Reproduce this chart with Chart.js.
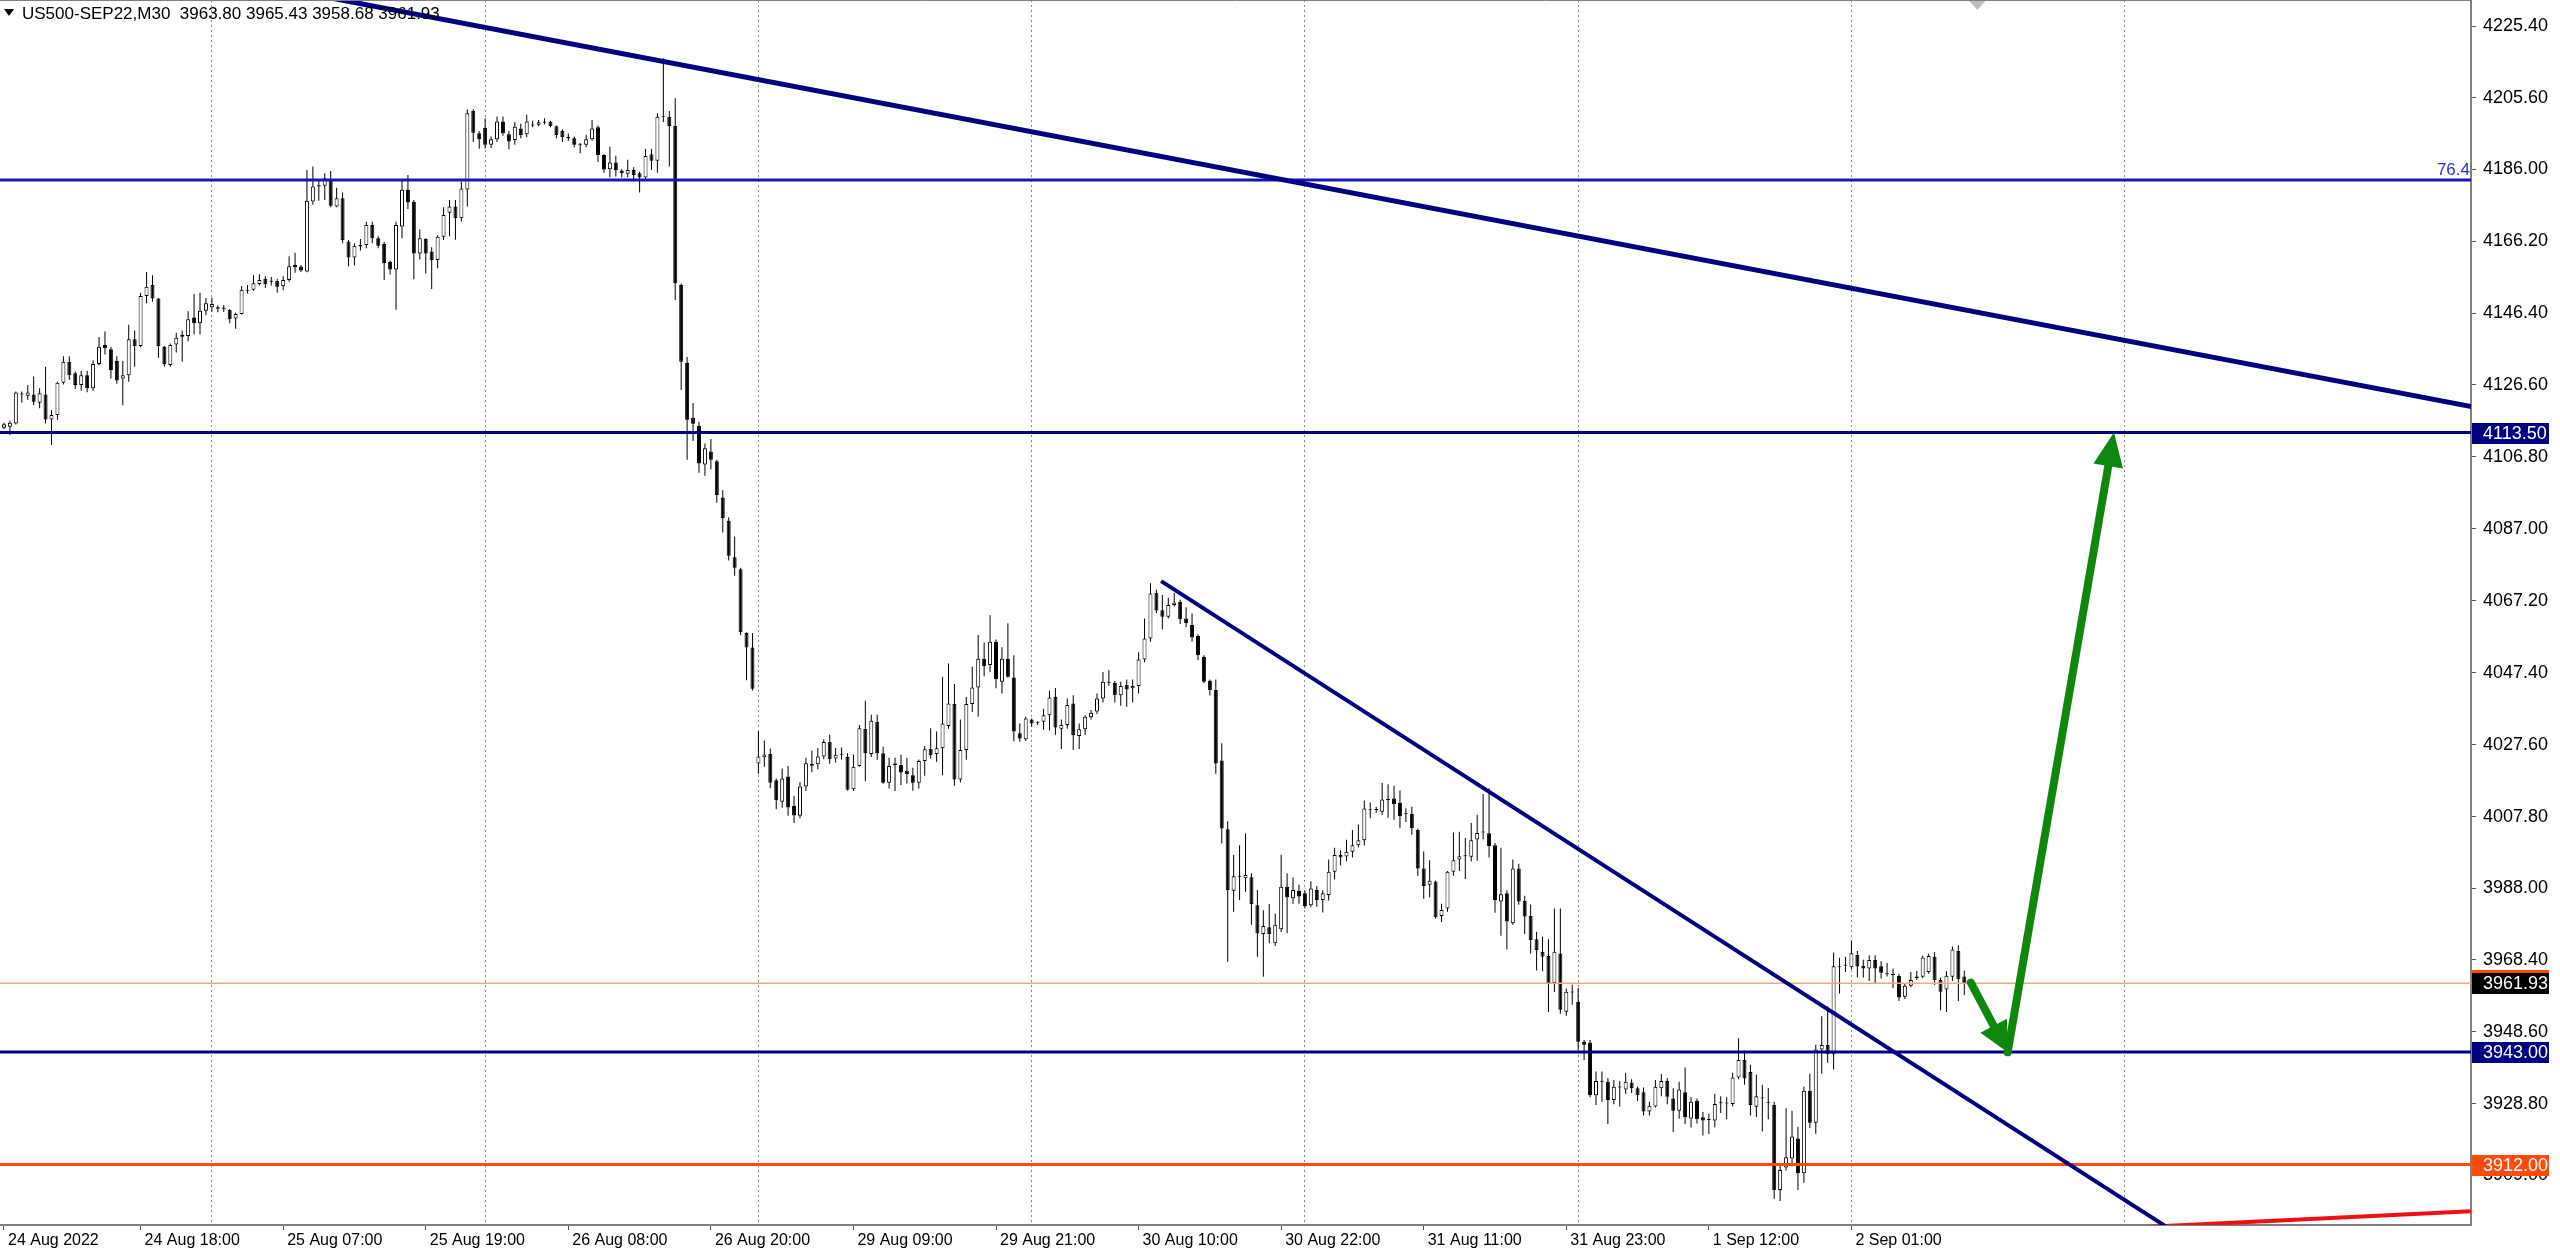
<!DOCTYPE html>
<html>
<head>
<meta charset="utf-8">
<title>US500-SEP22,M30</title>
<script src="https://cdn.jsdelivr.net/npm/chart.js@4.4.0/dist/chart.umd.min.js"></script>
<style>
html, body { margin: 0; padding: 0; background: #ffffff; }
canvas { display: block; }
</style>
</head>
<body>
<canvas id="canvas" width="2560" height="1253"></canvas>
<script>
// M30 bars, index 0 = first visible bar (24 Aug 2022)
var opens = [
  4114.8,4115.1,4116.0,4124.0,4123.6,4124.0,4121.7,4124.0,4117.1,4118.3,
  4127.2,4133.0,4129.8,4126.6,4129.3,4125.7,4132.4,4137.6,4136.4,4133.2,
  4128.4,4129.3,4139.2,4137.3,4151.1,4154.1,4150.4,4137.1,4132.1,4137.7,
  4139.9,4140.1,4145.2,4143.6,4147.0,4148.0,4148.0,4147.9,4147.2,4144.9,
  4146.1,4152.5,4152.8,4154.4,4155.8,4155.0,4155.2,4153.8,4155.5,4159.6,
  4159.2,4157.8,4177.1,4181.6,4181.4,4183.2,4175.7,4178.0,4166.1,4161.7,
  4165.2,4165.1,4170.6,4167.0,4165.4,4160.5,4158.4,4170.2,4180.3,4177.0,
  4162.8,4166.8,4163.3,4161.0,4167.4,4174.0,4175.7,4172.5,4180.4,4202.1,
  4195.9,4197.4,4192.7,4194.2,4199.1,4195.6,4194.0,4197.2,4195.6,4198.0,
  4198.2,4198.8,4199.1,4197.8,4196.6,4194.9,4194.5,4192.6,4192.7,4194.2,
  4197.5,4189.9,4186.0,4187.8,4185.6,4184.7,4185.8,4184.9,4183.7,4190.1,
  4188.3,4200.3,4200.4,4197.9,4154.1,4132.7,4117.6,4115.4,4104.7,4108.3,
  4105.6,4095.6,4089.2,4079.2,4075.9,4058.3,4054.3,4022.4,4024.1,4025.0,
  4017.8,4011.9,4018.8,4010.8,4008.0,4016.1,4022.3,4022.2,4024.3,4028.3,
  4023.8,4024.8,4024.2,4015.3,4021.7,4031.9,4025.0,4033.9,4025.2,4017.1,
  4022.0,4022.0,4020.4,4019.2,4017.1,4023.1,4026.4,4025.0,4026.6,4032.7,
  4038.8,4018.0,4026.1,4038.8,4043.3,4051.2,4049.5,4055.9,4044.9,4051.2,
  4046.1,4030.7,4029.1,4034.5,4033.6,4033.9,4035.7,4040.8,4032.0,4033.0,
  4038.9,4030.0,4031.8,4035.1,4036.7,4040.3,4044.7,4044.6,4041.2,4044.0,
  4043.1,4043.7,4051.0,4056.8,4069.4,4064.6,4062.8,4066.0,4066.9,4062.3,
  4060.5,4057.5,4051.8,4045.2,4042.6,4023.2,4004.3,3987.4,3991.2,3990.8,
  3991.1,3983.4,3975.5,3977.3,3972.9,3976.8,3988.5,3985.3,3987.4,3986.7,
  3983.4,3987.6,3984.8,3986.2,3992.6,3997.2,3996.8,3998.1,3999.9,4001.3,
  4009.5,4009.6,4009.1,4012.3,4012.8,4011.6,4008.5,4008.5,4004.1,3993.5,
  3989.0,3989.9,3980.4,3982.5,3992.6,3996.0,3996.9,3996.7,4001.5,4003.4,
  4003.2,3999.9,3984.4,3986.7,3978.4,3993.5,3984.6,3980.4,3974.0,3970.6,
  3969.4,3962.0,3970.1,3954.1,3959.4,3956.8,3945.8,3945.6,3931.1,3934.8,
  3934.8,3929.8,3933.2,3932.7,3934.6,3933.0,3931.9,3926.6,3928.0,3933.0,
  3935.0,3930.2,3926.8,3931.9,3924.7,3929.6,3925.0,3924.3,3924.1,3928.9,
  3928.9,3928.7,3936.0,3940.8,3937.5,3927.9,3930.2,3929.0,3928.4,3905.0,
  3911.2,3913.7,3919.2,3909.6,3932.3,3923.5,3943.7,3944.9,3942.4,3966.3,
  3966.7,3966.3,3969.7,3966.7,3966.0,3968.3,3966.6,3964.5,3964.4,3963.9,
  3958.2,3961.2,3963.3,3963.7,3965.0,3969.2,3962.8,3960.2,3963.7,3970.8,3963.80
];
var highs = [
  4116.2,4116.8,4124.8,4124.8,4126.6,4128.9,4125.7,4131.6,4119.7,4127.5,
  4134.5,4134.5,4130.3,4130.5,4130.5,4133.4,4139.8,4141.3,4137.1,4134.5,
  4133.2,4143.2,4141.6,4152.0,4157.7,4156.8,4150.5,4137.3,4138.0,4141.0,
  4141.6,4146.9,4151.6,4152.0,4150.5,4150.6,4148.5,4148.6,4147.5,4146.5,
  4153.8,4154.1,4156.8,4157.1,4156.5,4156.3,4155.8,4156.5,4162.0,4163.0,
  4159.6,4185.8,4186.7,4183.0,4184.9,4185.5,4180.9,4179.6,4166.5,4165.6,
  4166.8,4171.5,4171.5,4167.5,4166.0,4160.8,4171.5,4183.0,4184.4,4177.5,
  4169.4,4167.0,4164.5,4167.8,4175.5,4177.5,4177.5,4182.5,4202.5,4202.5,
  4196.5,4200.0,4195.0,4200.5,4200.5,4196.5,4199.0,4198.5,4201.0,4199.3,
  4199.5,4200.0,4199.3,4198.0,4197.0,4195.8,4195.0,4193.2,4195.5,4199.5,
  4198.0,4190.2,4192.2,4189.7,4186.0,4188.6,4186.5,4185.3,4191.6,4191.6,
  4201.4,4216.5,4202.0,4205.5,4154.5,4134.3,4121.6,4116.5,4110.5,4111.7,
  4106.0,4097.6,4090.2,4084.9,4076.3,4058.5,4058.3,4031.3,4028.7,4026.5,
  4018.3,4021.0,4021.7,4013.5,4017.3,4024.0,4026.0,4026.7,4029.0,4030.3,
  4026.7,4026.8,4025.2,4024.9,4033.0,4039.7,4035.8,4035.8,4027.0,4024.0,
  4024.0,4024.8,4024.0,4021.2,4023.5,4027.2,4032.1,4031.2,4046.3,4049.9,
  4044.3,4034.5,4040.7,4049.0,4057.8,4055.7,4063.2,4056.5,4054.4,4061.0,
  4052.2,4033.4,4035.3,4034.8,4034.0,4037.5,4042.4,4043.2,4034.5,4040.3,
  4041.2,4033.4,4035.7,4037.1,4041.7,4047.6,4048.1,4045.1,4044.9,4045.5,
  4045.5,4053.0,4062.3,4072.0,4070.2,4068.8,4068.0,4069.4,4067.5,4065.4,
  4063.7,4058.0,4052.2,4045.5,4045.5,4028.0,4006.5,3997.2,3999.9,4003.1,
  3992.2,3987.6,3982.0,3983.7,3981.1,3997.3,3992.2,3991.0,3989.0,3987.4,
  3990.0,3988.7,3987.5,3996.0,3999.2,3998.5,4001.4,4004.1,4005.6,4012.2,
  4011.7,4010.5,4017.0,4016.7,4016.3,4015.0,4010.1,4010.5,4004.5,3998.2,
  3995.8,3990.2,3983.8,3992.8,4003.4,4003.6,4001.9,4006.0,4008.3,4014.0,
  4015.6,4000.5,3999.2,3987.5,3996.0,3994.8,3986.0,3983.6,3976.1,3974.7,
  3974.0,3982.5,3982.5,3960.5,3961.5,3960.6,3946.3,3946.3,3937.6,3937.6,
  3935.8,3935.3,3935.0,3937.3,3935.5,3933.5,3933.2,3929.3,3935.3,3936.9,
  3935.8,3933.0,3934.8,3938.7,3930.5,3930.2,3926.5,3926.0,3931.5,3930.8,
  3930.5,3937.3,3946.8,3943.4,3939.5,3936.8,3934.0,3933.1,3929.3,3912.0,
  3927.5,3926.8,3922.4,3933.5,3937.0,3945.0,3952.8,3955.5,3970.4,3968.9,
  3969.2,3973.6,3970.8,3968.4,3969.6,3969.6,3968.0,3967.5,3966.0,3964.5,
  3962.0,3965.0,3965.3,3969.5,3970.0,3970.5,3963.5,3965.2,3972.0,3972.4,3965.43
];
var lows = [
  4114.4,4112.8,4115.7,4121.7,4122.5,4121.1,4120.2,4116.0,4110.1,4117.0,
  4126.7,4128.0,4125.5,4125.0,4124.6,4125.0,4132.0,4135.0,4128.4,4126.9,
  4121.0,4127.5,4131.6,4137.0,4149.1,4149.5,4134.1,4131.6,4131.6,4135.5,
  4133.0,4138.6,4140.5,4140.5,4145.8,4146.8,4146.6,4146.7,4143.6,4142.1,
  4146.0,4151.8,4152.5,4154.0,4153.3,4154.0,4152.0,4152.7,4155.0,4157.5,
  4157.7,4157.6,4176.2,4177.3,4177.5,4175.5,4175.5,4165.6,4159.3,4159.5,
  4163.6,4164.2,4165.6,4164.2,4155.5,4157.0,4147.3,4167.0,4175.0,4155.7,
  4161.1,4157.3,4153.0,4158.7,4166.5,4167.5,4166.6,4171.6,4175.7,4193.5,
  4191.6,4191.6,4191.8,4193.5,4195.2,4191.5,4192.7,4194.5,4194.8,4197.5,
  4197.8,4198.3,4197.5,4194.5,4193.5,4193.8,4192.0,4190.4,4192.0,4193.8,
  4188.0,4185.0,4183.8,4184.0,4183.7,4183.8,4182.7,4179.6,4183.3,4185.8,
  4185.0,4199.0,4186.7,4150.0,4125.2,4106.0,4111.2,4102.4,4101.6,4103.3,
  4094.2,4086.0,4078.3,4074.1,4057.7,4045.3,4042.5,4019.6,4021.5,4015.6,
  4009.8,4010.2,4008.0,4006.0,4007.3,4014.8,4020.0,4020.8,4023.6,4022.3,
  4022.7,4023.5,4015.0,4014.8,4021.5,4017.5,4024.2,4023.4,4016.8,4015.5,
  4014.8,4016.5,4016.8,4014.9,4015.5,4019.0,4023.7,4022.9,4019.2,4032.0,
  4016.3,4017.2,4023.4,4036.6,4035.3,4046.4,4047.6,4043.1,4041.7,4046.0,
  4028.5,4028.4,4028.6,4032.5,4033.0,4031.7,4031.5,4030.3,4026.4,4032.0,
  4026.1,4026.4,4030.3,4034.5,4036.0,4039.2,4043.8,4039.2,4038.3,4038.0,
  4039.2,4041.7,4050.3,4055.9,4063.8,4059.3,4062.3,4065.6,4060.8,4059.9,
  4056.0,4050.8,4044.5,4041.1,4019.6,4000.4,3967.8,3981.6,3984.8,3987.1,
  3978.0,3969.2,3963.7,3972.9,3972.2,3976.0,3975.7,3983.8,3983.8,3982.5,
  3982.8,3983.0,3981.4,3984.7,3990.5,3994.3,3995.5,3996.5,3999.3,3999.8,
  4007.3,4008.8,4008.2,4007.5,4006.9,4004.6,4006.3,4002.8,3991.5,3985.2,
  3985.6,3979.7,3978.8,3981.6,3991.5,3992.8,3990.6,3995.4,3995.6,4001.5,
  3996.5,3981.3,3975.0,3971.2,3978.0,3983.5,3975.5,3970.1,3965.4,3965.2,
  3954.0,3959.5,3953.5,3953.0,3956.0,3943.5,3940.8,3930.5,3928.4,3929.3,
  3923.2,3928.6,3928.0,3931.5,3931.7,3929.5,3925.5,3925.5,3927.7,3930.8,
  3928.6,3921.0,3924.6,3923.2,3922.2,3923.3,3920.0,3920.4,3922.3,3926.2,
  3924.5,3928.0,3935.5,3934.0,3925.5,3925.1,3921.1,3924.5,3902.6,3902.0,
  3910.4,3911.5,3905.0,3907.0,3922.1,3920.5,3937.0,3940.0,3938.2,3959.1,
  3965.0,3965.7,3963.5,3963.5,3962.5,3962.0,3963.2,3963.8,3960.6,3957.0,
  3957.6,3960.8,3962.8,3963.3,3964.5,3961.5,3954.5,3954.0,3962.5,3957.0,3958.68
];
var closes = [
  4115.8,4116.2,4124.5,4124.2,4124.5,4122.0,4124.3,4117.1,4118.3,4127.2,
  4133.0,4129.3,4126.6,4129.3,4125.7,4132.4,4137.1,4136.7,4130.7,4127.8,
  4129.3,4139.2,4137.3,4151.1,4153.6,4150.4,4137.3,4132.4,4137.6,4139.6,
  4140.4,4144.7,4143.6,4147.0,4149.1,4148.9,4147.6,4147.6,4144.7,4146.1,
  4152.8,4152.8,4154.6,4155.5,4154.4,4155.3,4153.6,4155.5,4159.3,4159.0,
  4158.1,4177.3,4181.2,4181.2,4183.5,4175.9,4178.0,4166.5,4161.7,4164.9,
  4164.7,4170.6,4167.0,4164.9,4160.2,4158.4,4170.6,4180.3,4176.8,4162.8,
  4167.0,4162.8,4161.0,4167.4,4173.4,4175.7,4172.5,4180.7,4201.4,4196.0,
  4194.2,4192.7,4194.2,4199.1,4195.9,4193.6,4197.7,4195.4,4199.1,4198.3,
  4198.9,4199.1,4197.8,4195.4,4194.8,4194.6,4192.7,4192.8,4194.2,4197.2,
  4189.9,4185.9,4187.8,4185.8,4184.9,4185.8,4184.4,4183.7,4189.6,4188.3,
  4200.4,4200.5,4197.9,4154.6,4133.0,4117.0,4115.9,4105.0,4109.2,4106.0,
  4096.3,4090.0,4079.6,4076.3,4058.5,4054.3,4043.0,4024.3,4024.9,4017.1,
  4012.3,4018.3,4010.3,4008.1,4016.1,4022.5,4021.8,4024.3,4028.3,4023.6,
  4024.8,4024.9,4015.2,4021.5,4032.1,4025.2,4034.2,4025.2,4017.1,4021.7,
  4022.4,4019.9,4019.5,4017.1,4023.1,4026.3,4024.7,4026.6,4033.4,4038.9,
  4018.0,4026.1,4038.8,4043.3,4051.2,4049.2,4055.9,4045.6,4051.2,4046.3,
  4031.2,4029.3,4034.8,4033.4,4033.7,4035.7,4040.6,4032.3,4033.0,4038.5,
  4030.2,4031.8,4035.3,4036.4,4040.3,4044.9,4044.6,4041.2,4043.7,4042.8,
  4043.7,4051.0,4056.8,4069.2,4064.5,4062.8,4066.0,4066.7,4062.1,4061.0,
  4057.1,4052.2,4044.9,4042.6,4022.4,4004.5,3987.6,3991.4,3991.4,3991.7,
  3983.7,3975.6,3977.7,3975.5,3978.0,3988.5,3985.6,3987.6,3985.8,3983.2,
  3988.0,3984.8,3986.7,3992.6,3997.2,3996.5,3998.1,3999.9,4001.3,4010.0,
  4009.6,4009.7,4012.5,4012.7,4011.2,4007.9,4008.4,4004.6,3993.5,3988.7,
  3990.1,3980.1,3982.1,3992.6,3995.8,3996.9,3997.0,4001.3,4003.3,4003.5,
  3999.7,3984.8,3986.4,3978.9,3993.5,3984.4,3980.3,3973.8,3971.1,3969.2,
  3962.0,3970.6,3954.6,3959.6,3959.5,3945.8,3945.0,3931.1,3935.0,3934.9,
  3929.8,3933.4,3933.4,3934.8,3933.0,3931.1,3926.6,3928.2,3933.4,3935.0,
  3930.7,3926.8,3932.7,3925.0,3929.3,3924.5,3924.1,3924.4,3928.7,3929.0,
  3928.8,3936.0,3940.8,3935.7,3928.4,3930.8,3930.3,3929.1,3905.0,3910.5,
  3914.0,3919.7,3909.6,3932.3,3923.5,3943.7,3944.9,3942.4,3966.6,3966.4,
  3966.9,3970.2,3966.5,3966.0,3968.3,3966.0,3964.8,3964.4,3964.2,3958.0,
  3961.2,3962.8,3963.8,3969.0,3969.4,3962.8,3959.6,3964.0,3971.2,3963.0,3961.93
];

// time axis: bar index of each label, and bar index of each day start (dotted grid)
var timeLabels = ['24 Aug 2022', '24 Aug 18:00', '25 Aug 07:00', '25 Aug 19:00', '26 Aug 08:00', '26 Aug 20:00',
  '29 Aug 09:00', '29 Aug 21:00', '30 Aug 10:00', '30 Aug 22:00', '31 Aug 11:00', '31 Aug 23:00', '1 Sep 12:00', '2 Sep 01:00'];
var timeTickIdx = [0, 23, 47, 71, 95, 119, 143, 167, 191, 215, 239, 263, 287, 311];
var dayStartIdx = [35, 81, 127, 173, 219, 265, 311, 357];

// price axis
var priceTicks = [3909.0, 3928.8, 3948.6, 3968.4, 3988.0, 4007.8, 4027.6, 4047.4, 4067.2, 4087.0,
  4106.8, 4126.6, 4146.4, 4166.2, 4186.0, 4205.6, 4225.4];

// drawn objects: [bar index, price] end points
var upperTrend = [[40, 4237.8], [420, 4119.2]];
var lowerTrend = [[194.8, 4072.6], [380, 3878.1]];
var redTrend = [[360, 3894.8], [420, 3899.5]];
var fibLevel = 4183.0;
var resistance = 4113.5;
var support = 3943.0;
var lowLevel = 3912.0;
var bidPrice = 3961.93;
var arrowDown = [[331.1, 3962.1], [337.3, 3942.9]];
var arrowUp = [[337.3, 3942.9], [355.2, 4113.5]];
var shiftMarkerIdx = 332.2;

var xMin = -0.67, xMax = 415.3;
var yMin = 3895.37, yMax = 4232.56;

var navy = '#000080';
var green = '#0f870f';

function pts(arr) {
  return arr.map(function(p) { return {x: p[0], y: p[1]}; });
}
function hline(price) {
  return [{x: xMin - 2, y: price}, {x: xMax + 2, y: price}];
}
function lineSet(data, color, width, order) {
  return {
    type: 'line', data: data, borderColor: color, borderWidth: width,
    pointRadius: 0, fill: false, tension: 0, clip: 0, order: order,
    xAxisID: 'x', yAxisID: 'y'
  };
}

var bodyData = opens.map(function(o, i) { return {x: i, y: [o, closes[i]]}; });
var wickData = lows.map(function(l, i) { return {x: i, y: [l, highs[i]]}; });
var bodyColors = closes.map(function(c, i) { return c >= opens[i] ? '#ffffff' : '#000000'; });

var font = 'Liberation Sans';

function drawArrow(ctx, x1, y1, x2, y2, shaftW, headL, headW) {
  var dx = x2 - x1, dy = y2 - y1;
  var len = Math.sqrt(dx * dx + dy * dy);
  var ux = dx / len, uy = dy / len;
  var bx = x2 - ux * headL, by = y2 - uy * headL;
  ctx.strokeStyle = green;
  ctx.fillStyle = green;
  ctx.lineWidth = shaftW;
  ctx.lineCap = 'round';
  ctx.beginPath();
  ctx.moveTo(x1, y1);
  ctx.lineTo(bx + ux * 3, by + uy * 3);
  ctx.stroke();
  ctx.beginPath();
  ctx.moveTo(x2, y2);
  ctx.lineTo(bx - uy * headW / 2, by + ux * headW / 2);
  ctx.lineTo(bx + uy * headW / 2, by - ux * headW / 2);
  ctx.closePath();
  ctx.fill();
}

var overlay = {
  id: 'overlay',
  afterDatasetsDraw: function(chart) {
    var ctx = chart.ctx, xs = chart.scales.x, ys = chart.scales.y, area = chart.chartArea;
    ctx.save();
    ctx.beginPath();
    ctx.rect(area.left, area.top, area.right - area.left, area.bottom - area.top);
    ctx.clip();
    drawArrow(ctx, xs.getPixelForValue(arrowDown[0][0]), ys.getPixelForValue(arrowDown[0][1]),
      xs.getPixelForValue(arrowDown[1][0]), ys.getPixelForValue(arrowDown[1][1]), 8, 30, 30);
    drawArrow(ctx, xs.getPixelForValue(arrowUp[0][0]), ys.getPixelForValue(arrowUp[0][1]),
      xs.getPixelForValue(arrowUp[1][0]), ys.getPixelForValue(arrowUp[1][1]), 8, 34, 30);
    // chart shift marker
    var mx = xs.getPixelForValue(shiftMarkerIdx);
    ctx.fillStyle = '#bdbdbd';
    ctx.beginPath();
    ctx.moveTo(mx - 9, area.top);
    ctx.lineTo(mx + 9, area.top);
    ctx.lineTo(mx, area.top + 10);
    ctx.closePath();
    ctx.fill();
    ctx.restore();
  },
  afterDraw: function(chart) {
    var ctx = chart.ctx, ys = chart.scales.y, area = chart.chartArea;
    ctx.save();
    // top frame
    ctx.strokeStyle = '#808080';
    ctx.lineWidth = 1;
    ctx.beginPath();
    ctx.moveTo(area.left, 0.5);
    ctx.lineTo(area.right, 0.5);
    ctx.stroke();

    // fib level caption
    ctx.font = '17px "' + font + '"';
    ctx.fillStyle = '#2f2fd8';
    ctx.textAlign = 'right';
    ctx.textBaseline = 'bottom';
    ctx.fillText('76.4', area.right - 1, ys.getPixelForValue(fibLevel) - 1);

    // price boxes on the axis
    var boxes = [
      [resistance, navy, resistance.toFixed(2)],
      [support, navy, support.toFixed(2)],
      [lowLevel, '#ff4a0a', lowLevel.toFixed(2)],
      [bidPrice, '#000000', bidPrice.toFixed(2)]
    ];
    ctx.font = '18px "' + font + '"';
    ctx.textAlign = 'left';
    ctx.textBaseline = 'middle';
    boxes.forEach(function(b) {
      var y = Math.round(ys.getPixelForValue(b[0]));
      if (b[1] === '#000000') {
        ctx.fillStyle = '#ff4a0a';
        ctx.fillRect(area.right + 1, y - 13, 77, 3);
      }
      ctx.fillStyle = b[1];
      ctx.fillRect(area.right + 1, y - 10, 77, 21);
      ctx.fillStyle = '#ffffff';
      ctx.fillText(b[2], area.right + 12, y + 1);
    });

    // symbol caption
    ctx.fillStyle = '#000000';
    ctx.beginPath();
    ctx.moveTo(4, 9);
    ctx.lineTo(14, 9);
    ctx.lineTo(9, 16);
    ctx.closePath();
    ctx.fill();
    ctx.font = '17px "' + font + '"';
    ctx.textBaseline = 'middle';
    ctx.fillText('US500-SEP22,M30  3963.80 3965.43 3958.68 3961.93', 22, 14);
    ctx.restore();
  }
};

function noPad(s) {
  s.paddingTop = 0;
  s.paddingBottom = 0;
  s.paddingLeft = 0;
  s.paddingRight = 0;
}

window.onload = function() {
  var ctx = document.getElementById('canvas').getContext('2d');
  Chart.defaults.font.family = font;
  window.myChart = new Chart(ctx, {
    type: 'bar',
    data: {
      datasets: [
        lineSet(pts(upperTrend), navy, 5, 0),
        lineSet(pts(lowerTrend), navy, 4, 0),
        lineSet(pts(redTrend), '#ee1111', 4, 0),
        lineSet(hline(fibLevel), '#1616b4', 3, 0),
        lineSet(hline(resistance), navy, 3, 0),
        lineSet(hline(support), navy, 3, 0),
        lineSet(hline(lowLevel), '#ff4a0a', 3, 0),
        lineSet(hline(bidPrice), '#f0a884', 1.5, 1),
        {
          type: 'bar', label: 'body', data: bodyData,
          backgroundColor: bodyColors, borderColor: '#000000', borderWidth: 1,
          borderSkipped: false, barThickness: 4, minBarLength: 1, grouped: false,
          inflateAmount: 0, order: 2, xAxisID: 'x', yAxisID: 'y'
        },
        {
          type: 'bar', label: 'wick', data: wickData,
          backgroundColor: '#000000', borderWidth: 0, barThickness: 1, grouped: false,
          inflateAmount: 0, order: 3, xAxisID: 'x', yAxisID: 'y'
        }
      ]
    },
    options: {
      responsive: false,
      animation: false,
      events: [],
      layout: { padding: 0 },
      plugins: { legend: { display: false }, tooltip: { enabled: false }, title: { display: false } },
      scales: {
        x: {
          type: 'linear', min: xMin, max: xMax, offset: false, position: 'bottom',
          afterBuildTicks: function(s) { s.ticks = timeTickIdx.map(function(v) { return {value: v}; }); },
          afterFit: function(s) { s.height = 28; noPad(s); },
          ticks: {
            autoSkip: false, maxRotation: 0, minRotation: 0, align: 'start', labelOffset: 4, padding: 1,
            color: '#000000', font: { size: 16 },
            callback: function(v) { var k = timeTickIdx.indexOf(v); return k >= 0 ? timeLabels[k] : ''; }
          },
          grid: { offset: false, drawOnChartArea: false, drawTicks: true, tickLength: 5, color: '#555555' },
          border: { display: true, color: '#808080', width: 2 }
        },
        xg: {
          type: 'linear', min: xMin, max: xMax, offset: false, position: 'bottom',
          afterBuildTicks: function(s) { s.ticks = dayStartIdx.map(function(v) { return {value: v}; }); },
          afterFit: function(s) { s.height = 0; noPad(s); },
          ticks: { display: false },
          grid: { offset: false, color: '#8c8c8c', lineWidth: 1, drawTicks: false },
          border: { display: false, dash: [2, 3] }
        },
        y: {
          position: 'right', min: yMin, max: yMax,
          afterBuildTicks: function(s) { s.ticks = priceTicks.map(function(v) { return {value: v}; }); },
          afterFit: function(s) { s.width = 89; noPad(s); },
          ticks: {
            padding: 7, color: '#000000', font: { size: 18 },
            callback: function(v) { return v.toFixed(2); }
          },
          grid: { offset: false, drawOnChartArea: false, drawTicks: true, tickLength: 5, color: '#555555' },
          border: { display: true, color: '#808080', width: 2 }
        }
      }
    },
    plugins: [overlay]
  });
};
</script>
</body>
</html>
